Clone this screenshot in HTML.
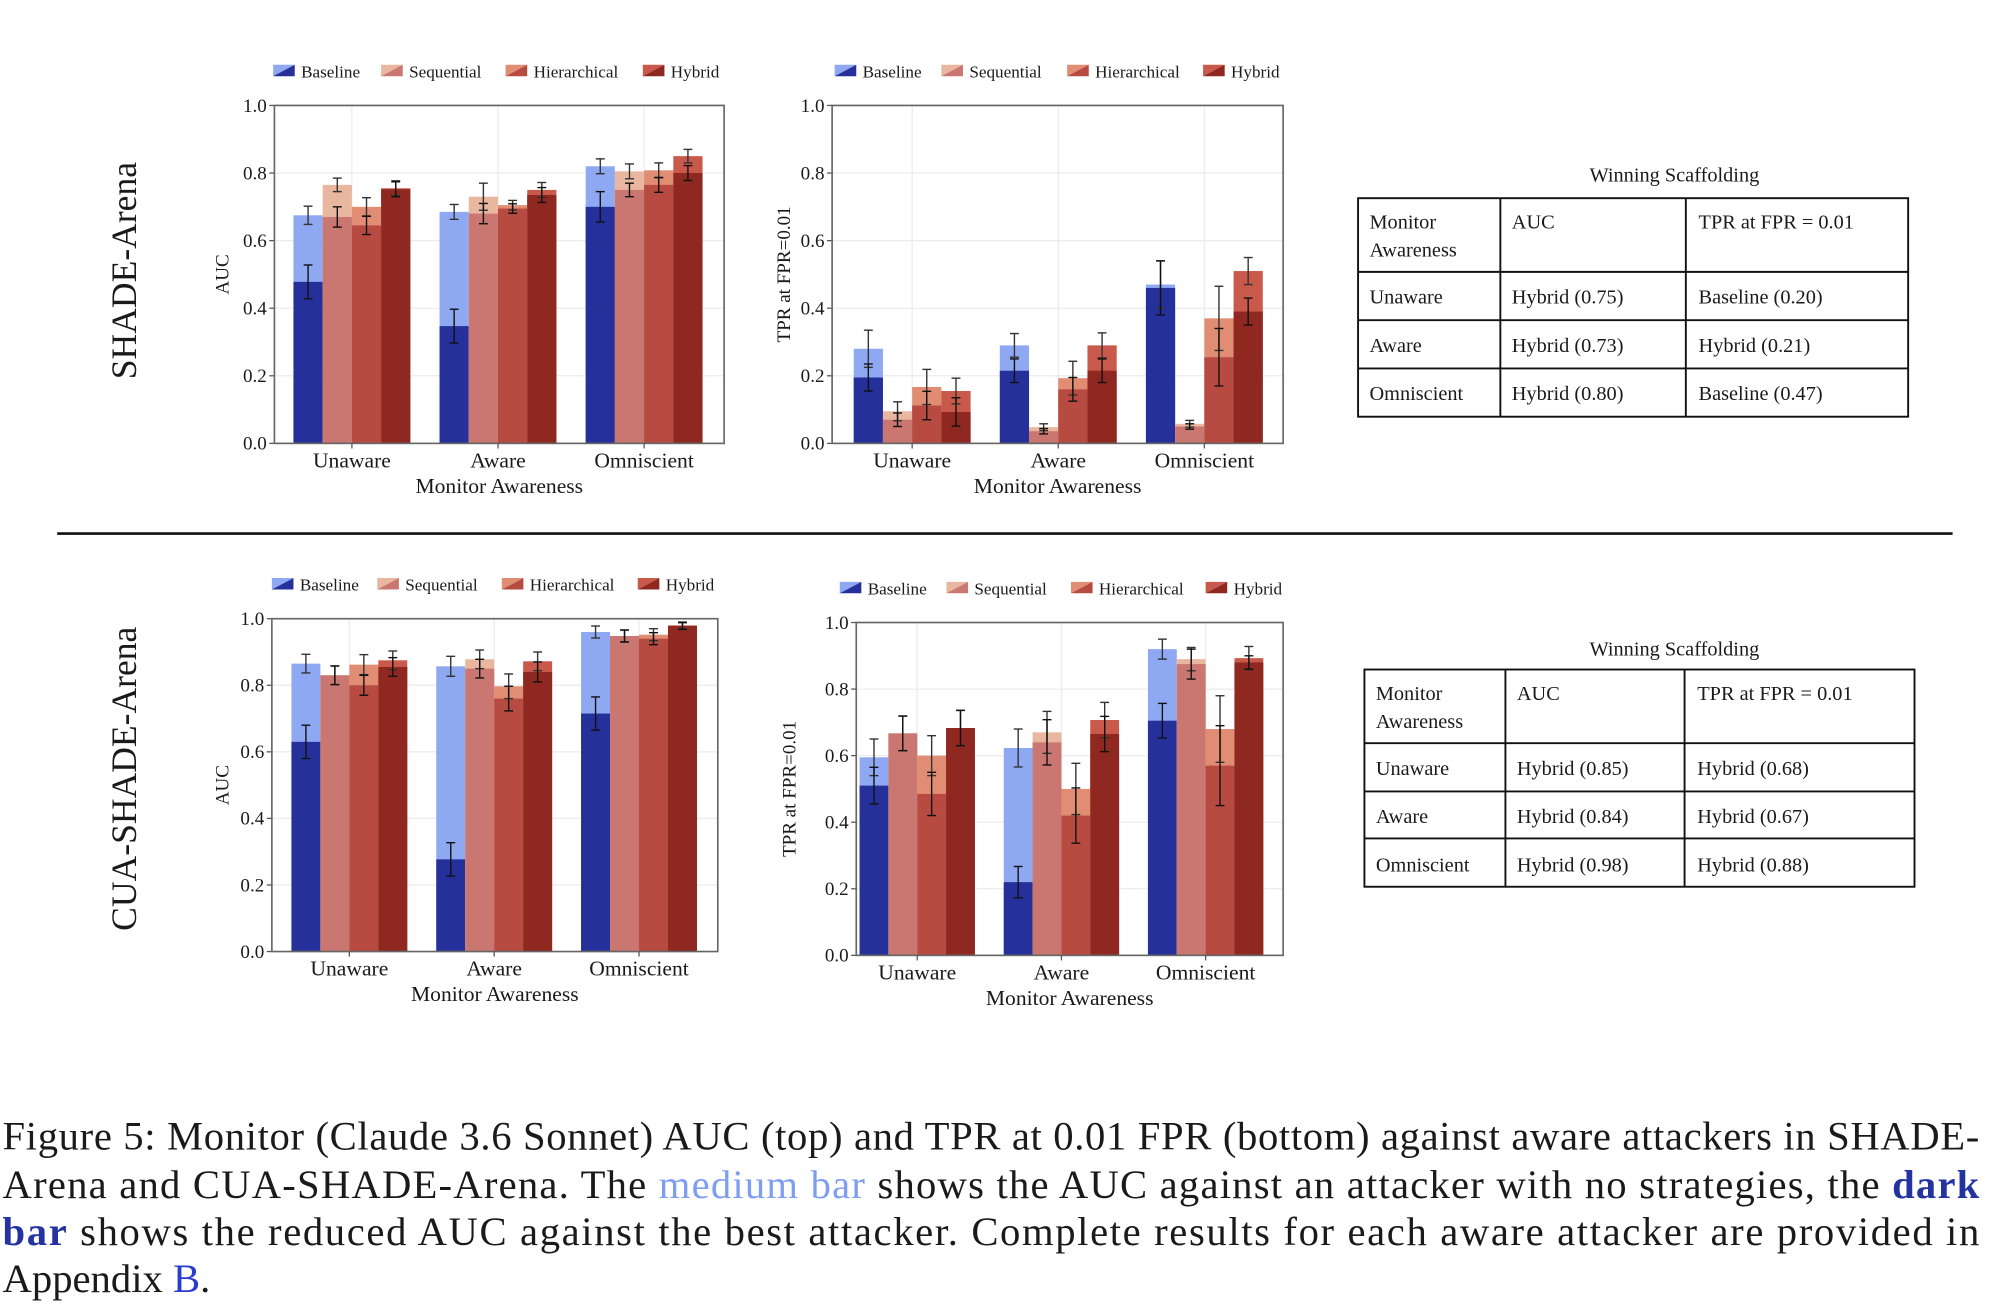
<!DOCTYPE html>
<html><head><meta charset="utf-8"><style>
html,body{margin:0;padding:0;background:#fff;}
svg{display:block;}
text{font-family:"Liberation Serif",serif;fill:#1a1a1a;}
</style></head><body>
<svg id="fig" width="1992" height="1306" viewBox="0 0 1568 1028" xmlns="http://www.w3.org/2000/svg">
<rect x="0" y="0" width="1568" height="1028" fill="#fff"/>
<text x="0" y="0" font-size="28" text-anchor="middle" transform="translate(107,213) rotate(-90)">SHADE-Arena</text>
<text x="0" y="0" font-size="28" text-anchor="middle" transform="translate(107,613) rotate(-90)">CUA-SHADE-Arena</text>
<line x1="45" y1="420" x2="1537" y2="420" stroke="#111" stroke-width="2"/>

<g font-size="16">
<text x="1318" y="143" text-anchor="middle" font-size="16">Winning Scaffolding</text>
<rect x="1069" y="156" width="433" height="172" fill="none" stroke="#111" stroke-width="1.5"/>
<line x1="1181" y1="156" x2="1181" y2="328" stroke="#111" stroke-width="1.5"/>
<line x1="1327" y1="156" x2="1327" y2="328" stroke="#111" stroke-width="1.5"/>
<line x1="1069" y1="214" x2="1502" y2="214" stroke="#111" stroke-width="1.5"/>
<line x1="1069" y1="252" x2="1502" y2="252" stroke="#111" stroke-width="1.5"/>
<line x1="1069" y1="290" x2="1502" y2="290" stroke="#111" stroke-width="1.5"/>
<text x="1078" y="180">Monitor</text><text x="1078" y="202">Awareness</text>
<text x="1190" y="180">AUC</text><text x="1337" y="180">TPR at FPR = 0.01</text>
<text x="1078" y="239">Unaware</text><text x="1190" y="239">Hybrid (0.75)</text><text x="1337" y="239">Baseline (0.20)</text>
<text x="1078" y="277">Aware</text><text x="1190" y="277">Hybrid (0.73)</text><text x="1337" y="277">Hybrid (0.21)</text>
<text x="1078" y="315">Omniscient</text><text x="1190" y="315">Hybrid (0.80)</text><text x="1337" y="315">Baseline (0.47)</text>
</g>

<g font-size="16">
<text x="1318" y="516" text-anchor="middle" font-size="16">Winning Scaffolding</text>
<rect x="1074" y="527" width="433" height="171" fill="none" stroke="#111" stroke-width="1.5"/>
<line x1="1185" y1="527" x2="1185" y2="698" stroke="#111" stroke-width="1.5"/>
<line x1="1326" y1="527" x2="1326" y2="698" stroke="#111" stroke-width="1.5"/>
<line x1="1074" y1="585" x2="1507" y2="585" stroke="#111" stroke-width="1.5"/>
<line x1="1074" y1="623" x2="1507" y2="623" stroke="#111" stroke-width="1.5"/>
<line x1="1074" y1="660" x2="1507" y2="660" stroke="#111" stroke-width="1.5"/>
<text x="1083" y="551">Monitor</text><text x="1083" y="573">Awareness</text>
<text x="1194" y="551">AUC</text><text x="1336" y="551">TPR at FPR = 0.01</text>
<text x="1083" y="610">Unaware</text><text x="1194" y="610">Hybrid (0.85)</text><text x="1336" y="610">Hybrid (0.68)</text>
<text x="1083" y="648">Aware</text><text x="1194" y="648">Hybrid (0.84)</text><text x="1336" y="648">Hybrid (0.67)</text>
<text x="1083" y="686">Omniscient</text><text x="1194" y="686">Hybrid (0.98)</text><text x="1336" y="686">Hybrid (0.88)</text>
</g>

<g font-size="32">
<text x="2" y="905" textLength="1556" lengthAdjust="spacing">Figure 5: Monitor (Claude 3.6 Sonnet) AUC (top) and TPR at 0.01 FPR (bottom) against aware attackers in SHADE-</text>
<text x="2" y="943" textLength="1556" lengthAdjust="spacing">Arena and CUA-SHADE-Arena. The <tspan fill="#7f9ef2">medium bar</tspan> shows the AUC against an attacker with no strategies, the <tspan fill="#2533a0" font-weight="bold">dark</tspan></text>
<text x="2" y="980" textLength="1556" lengthAdjust="spacing"><tspan fill="#2533a0" font-weight="bold">bar</tspan> shows the reduced AUC against the best attacker. Complete results for each aware attacker are provided in</text>
<text x="2" y="1017">Appendix <tspan fill="#2a3bd0">B</tspan>.</text>
</g>
</svg>
<script>
const categories = ["Unaware", "Aware", "Omniscient"];
const seriesNames = ["Baseline", "Sequential", "Hierarchical", "Hybrid"];
const yTicks = [0, 0.2, 0.4, 0.6, 0.8, 1.0];
const yTickLabels = ["0.0", "0.2", "0.4", "0.6", "0.8", "1.0"];

// chart 1: SHADE AUC
const shadeAucLight = [[0.675,0.685,0.82],[0.765,0.73,0.805],[0.70,0.705,0.808],[0.755,0.75,0.85]];
const shadeAucDark  = [[0.478,0.347,0.70],[0.67,0.68,0.75],[0.645,0.695,0.765],[0.752,0.735,0.80]];
const shadeAucErrL  = [[0.027,0.022,0.022],[0.02,0.04,0.022],[0.027,0.014,0.022],[0.022,0.022,0.02]];
const shadeAucErrD  = [[0.05,0.05,0.045],[0.03,0.03,0.02],[0.027,0.014,0.022],[0.022,0.022,0.022]];
// chart 2: SHADE TPR
const shadeTprLight = [[0.28,0.29,0.47],[0.095,0.048,0.058],[0.167,0.193,0.37],[0.155,0.29,0.51]];
const shadeTprDark  = [[0.195,0.215,0.46],[0.07,0.036,0.05],[0.112,0.16,0.255],[0.093,0.215,0.39]];
const shadeTprErrL  = [[0.055,0.035,0.07],[0.028,0.01,0.01],[0.052,0.05,0.095],[0.038,0.037,0.04]];
const shadeTprErrD  = [[0.04,0.035,0.08],[0.02,0.008,0.008],[0.042,0.035,0.085],[0.042,0.035,0.04]];
// chart 3: CUA AUC
const cuaAucLight = [[0.865,0.857,0.96],[0.83,0.878,0.948],[0.862,0.797,0.952],[0.875,0.872,0.98]];
const cuaAucDark  = [[0.63,0.277,0.715],[0.83,0.85,0.948],[0.80,0.76,0.94],[0.855,0.84,0.978]];
const cuaAucErrL  = [[0.028,0.03,0.018],[0.028,0.028,0.018],[0.03,0.037,0.018],[0.028,0.028,0.01]];
const cuaAucErrD  = [[0.05,0.05,0.05],[0.028,0.028,0.018],[0.03,0.037,0.018],[0.028,0.03,0.01]];
// chart 4: CUA TPR
const cuaTprLight = [[0.595,0.623,0.92],[0.667,0.67,0.89],[0.60,0.50,0.68],[0.683,0.707,0.893]];
const cuaTprDark  = [[0.51,0.22,0.705],[0.667,0.64,0.875],[0.485,0.42,0.57],[0.683,0.665,0.88]];
const cuaTprErrL  = [[0.055,0.057,0.03],[0.052,0.063,0.035],[0.06,0.077,0.1],[0.053,0.053,0.035]];
const cuaTprErrD  = [[0.055,0.047,0.052],[0.052,0.068,0.045],[0.065,0.083,0.12],[0.053,0.053,0.02]];

const lightColors = ["#8ea8f2","#e9b6a0","#e18d73","#c9594a"];
const darkColors  = ["#25309b","#c97770","#b74b41","#8e2820"];
const NS = "http://www.w3.org/2000/svg";
const svg = document.getElementById("fig");
function mk(tag, attrs, parent){const e=document.createElementNS(NS,tag);for(const k in attrs)e.setAttribute(k,attrs[k]);(parent||svg).appendChild(e);return e;}

function drawChart(cfg, light, dark, errL, errD){
  const g = mk("g",{});
  
  
  const {x0,x1,y0,y1} = cfg;
  const yScale = v => y1 - v*(y1-y0);
  const xCenter = i => cfg.c0 + cfg.sp*i;
  const bw = cfg.sp*0.2;
  yTicks.forEach((t,i)=>{
    mk("line",{x1:x0,x2:x1,y1:yScale(t),y2:yScale(t),stroke:"#ececec","stroke-width":1},g);
    const tl = mk("text",{x:x0-6,y:yScale(t)+5,"font-size":15,"text-anchor":"end"},g);
    tl.textContent = yTickLabels[i];
    
    
    mk("line",{x1:x0-4,x2:x0,y1:yScale(t),y2:yScale(t),stroke:"#555","stroke-width":1},g);
  });
  categories.forEach((c,i)=>{
    mk("line",{x1:xCenter(i),x2:xCenter(i),y1:y0,y2:y1,stroke:"#ececec","stroke-width":1},g);
  });
  seriesNames.forEach((s,si)=>{
    categories.forEach((c,ci)=>{
      const bx = xCenter(ci) - 2*bw + si*bw;
      const lv = light[si][ci], dv = dark[si][ci];
      const r1 = mk("rect",{x:bx,y:yScale(lv),width:bw,height:y1-yScale(lv),fill:lightColors[si]},g);
      
      
      const r2 = mk("rect",{x:bx,y:yScale(dv),width:bw,height:y1-yScale(dv),fill:darkColors[si]},g);
      
      
      const cx = bx + bw/2;
      [[lv,errL[si][ci],"#333"],[dv,errD[si][ci],"#111"]].forEach(([v,e,col])=>{
        const eb = mk("g",{stroke:col,"stroke-width":1.1},g);
        
        
        mk("line",{x1:cx,x2:cx,y1:yScale(v+e),y2:yScale(v-e)},eb);
        mk("line",{x1:cx-3.5,x2:cx+3.5,y1:yScale(v+e),y2:yScale(v+e)},eb);
        mk("line",{x1:cx-3.5,x2:cx+3.5,y1:yScale(v-e),y2:yScale(v-e)},eb);
      });
    });
  });
  mk("rect",{x:x0,y:y0,width:x1-x0,height:y1-y0,fill:"none",stroke:"#666","stroke-width":1.3},g);
  categories.forEach((c,i)=>{
    mk("line",{x1:xCenter(i),x2:xCenter(i),y1:y1,y2:y1+4,stroke:"#555"},g);
    const t = mk("text",{x:xCenter(i),y:y1+19,"font-size":17,"text-anchor":"middle"},g);
    t.textContent = c;
    
    
  });
  const xl = mk("text",{x:(x0+x1)/2,y:y1+39,"font-size":17,"text-anchor":"middle"},g);
  xl.textContent = "Monitor Awareness";
  
  
  const yl = mk("text",{x:0,y:0,"font-size":15,"text-anchor":"middle",transform:`translate(${cfg.ylx},${(y0+y1)/2}) rotate(-90)`},g);
  yl.textContent = cfg.ylabel;
  
  
  seriesNames.forEach((s,si)=>{
    const lx = cfg.legX[si], ly = cfg.legY;
    const le = mk("g",{},g);
    
    
    mk("polygon",{points:`${lx},${ly-5} ${lx+17},${ly-5} ${lx},${ly+4}`,fill:lightColors[si]},le);
    mk("polygon",{points:`${lx+17},${ly-5} ${lx+17},${ly+4} ${lx},${ly+4}`,fill:darkColors[si]},le);
    const lt = mk("text",{x:lx+22,y:ly+5,"font-size":13.5},le);
    lt.textContent = s;
  });
}

drawChart({name:"chart-shade-auc",x0:216,x1:570,y0:83,y1:349,c0:277,sp:115,ylabel:"AUC",ylx:180,legY:56,legX:[215,300,398,506]},shadeAucLight,shadeAucDark,shadeAucErrL,shadeAucErrD);
drawChart({name:"chart-shade-tpr",x0:655,x1:1010,y0:83,y1:349,c0:718,sp:115,ylabel:"TPR at FPR=0.01",ylx:622,legY:56,legX:[657,741,840,947]},shadeTprLight,shadeTprDark,shadeTprErrL,shadeTprErrD);
drawChart({name:"chart-cua-auc",x0:214,x1:565,y0:487,y1:749,c0:275,sp:114,ylabel:"AUC",ylx:180,legY:460,legX:[214,297,395,502]},cuaAucLight,cuaAucDark,cuaAucErrL,cuaAucErrD);
drawChart({name:"chart-cua-tpr",x0:674,x1:1010,y0:490,y1:752,c0:722,sp:113.5,ylabel:"TPR at FPR=0.01",ylx:626,legY:463,legX:[661,745,843,949]},cuaTprLight,cuaTprDark,cuaTprErrL,cuaTprErrD);
</script>
</body></html>
